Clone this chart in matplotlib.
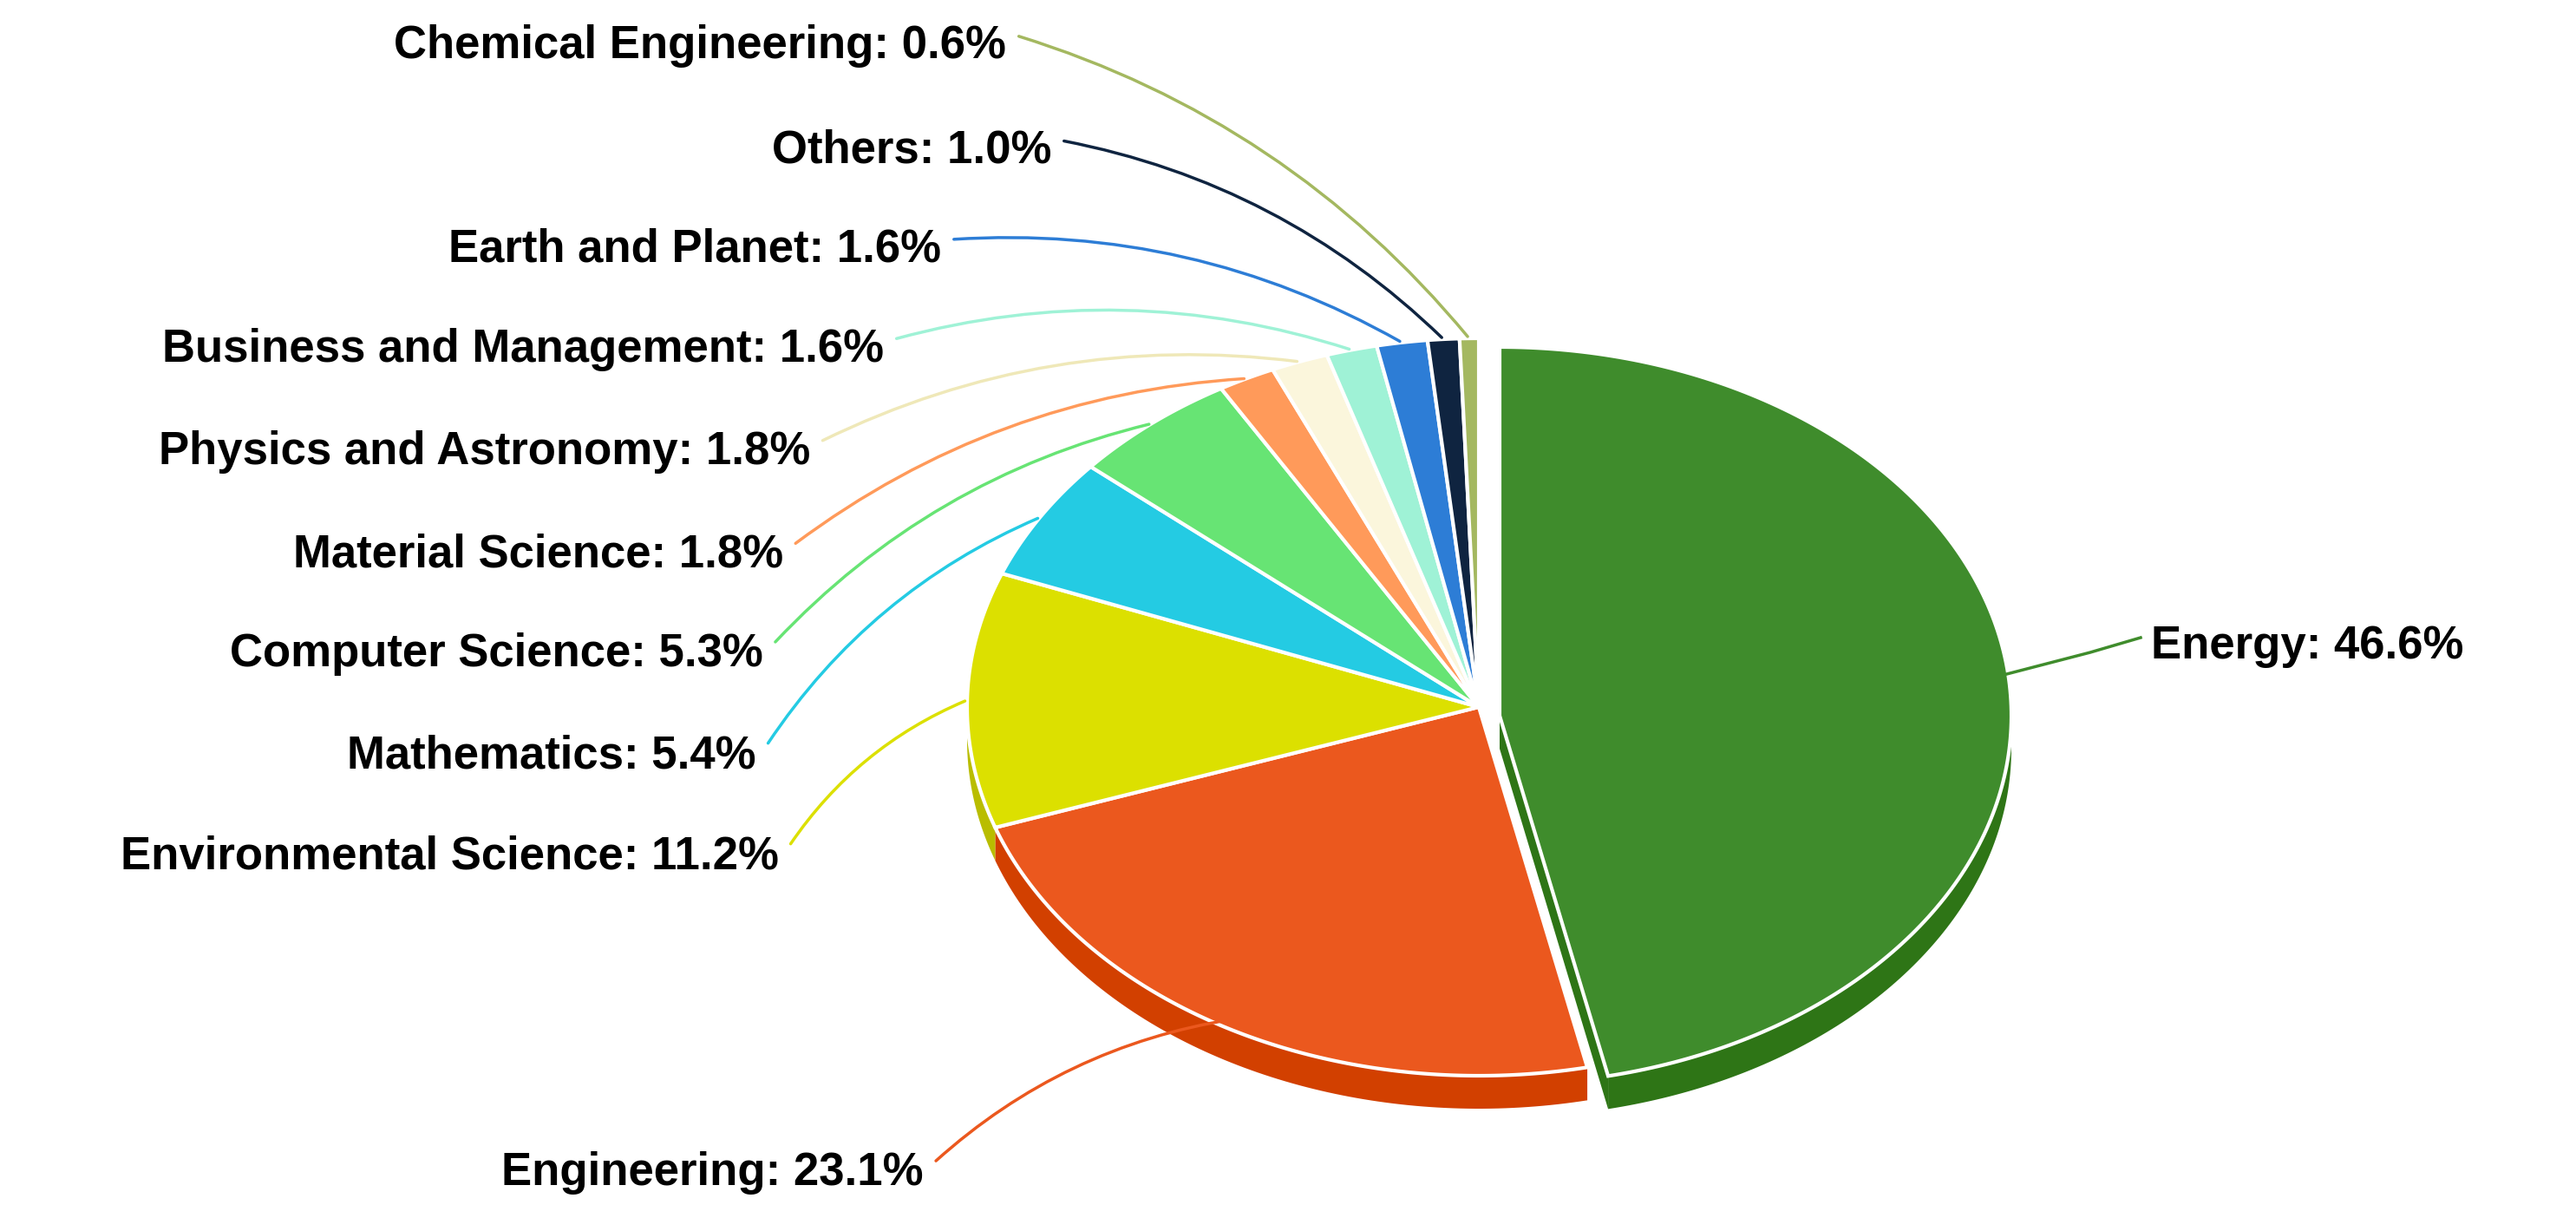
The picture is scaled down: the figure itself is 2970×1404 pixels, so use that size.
import numpy as np
import matplotlib
matplotlib.use("Agg")
from matplotlib import pyplot as plt
from matplotlib.patches import Polygon

# data, clockwise from 12 o'clock
labels = ["Energy", "Engineering", "Environmental Science", "Mathematics",
          "Computer Science", "Material Science", "Physics and Astronomy",
          "Business and Management", "Earth and Planet", "Others",
          "Chemical Engineering"]
shares = [46.6, 23.1, 11.2, 5.4, 5.3, 1.8, 1.8, 1.6, 1.6, 1.0, 0.6]
colors = ["#3f8c2c", "#eb581e", "#dce000", "#24cbe3", "#67e474", "#ff9a5a",
          "#fbf6dc", "#9ff2d6", "#2d7dd6", "#0f2440", "#a4b860"]
side_colors = ["#2e7516", "#d24000", "#b9bd00", "#1aa9bd", "#4fc25b", "#e07a3a",
               "#dcd7bd", "#7fd2b6", "#1d5db0", "#08162a", "#84984a"]

# layout in pixel coordinates (y downward)
W, H = 2970, 1404
cx, cy = 1705, 815
rx, ry = 590, 425
depth = 38
explode = {0: (24, 10)}

# label positions: (x of right end, y), elbow point
label_pos = [(2500, 745), (1065, 1352), (898, 987), (872, 871), (880, 754),
             (903, 640), (934, 521), (1019, 403), (1085, 288), (1212, 174),
             (1160, 53)]
label_elbow = [(2410, 752), (1370, 1290), (1010, 808), (1110, 560), (1240, 435),
               (1320, 370), (1410, 355), (1500, 330), (1580, 280), (1610, 215),
               (1650, 140)]

fig = plt.figure(figsize=(W / 100, H / 100), dpi=100)
ax = fig.add_axes([0, 0, 1, 1])
ax.set_xlim(0, W)
ax.set_ylim(H, 0)
ax.axis("off")


def pt(t, ox=0, oy=0, r=1.0):
    return cx + ox + r * rx * np.sin(t), cy + oy - r * ry * np.cos(t)


fr = np.array(shares) / sum(shares)
edges = np.concatenate([[0], np.cumsum(fr)]) * 2 * np.pi

# side faces
for i in range(len(shares)):
    ox, oy = explode.get(i, (0, 0))
    t1, t2 = edges[i], edges[i + 1]
    a, b = max(t1, np.pi / 2), min(t2, 3 * np.pi / 2)
    if a < b:
        ts = np.linspace(a, b, 100)
        top = [pt(t, ox, oy) for t in ts]
        bot = [(x, y + depth) for x, y in top[::-1]]
        ax.add_patch(Polygon(top + bot, closed=True, fc=side_colors[i], ec="none", zorder=1))
    if i == 0:
        ex, ey = pt(t2, ox, oy)
        ax.add_patch(Polygon([(cx + ox, cy + oy), (ex, ey), (ex, ey + depth),
                              (cx + ox, cy + oy + depth)], closed=True,
                             fc=side_colors[i], ec="none", zorder=1))

# top faces
for i in range(len(shares)):
    ox, oy = explode.get(i, (0, 0))
    ts = np.linspace(edges[i], edges[i + 1], 200)
    poly = [(cx + ox, cy + oy)] + [pt(t, ox, oy) for t in ts]
    ax.add_patch(Polygon(poly, closed=True, fc=colors[i], ec="white", lw=3, zorder=2))

# labels and leader lines
for i in range(len(shares)):
    ox, oy = explode.get(i, (0, 0))
    tm = (edges[i] + edges[i + 1]) / 2
    r = 0.97 if i < 2 else 1.0
    ax_, ay_ = pt(tm, ox, oy, r)
    lx, ly = label_pos[i]
    elx, ely = label_elbow[i]
    if i == 0:
        ax.text(lx - 20, ly, f"{labels[i]}: {shares[i]}%", ha="left", va="center",
                fontsize=38, fontweight="bold", family="Liberation Sans", zorder=4)
        ax.plot([ax_, elx, lx - 32], [ay_, ely, ly - 10], color=colors[i], lw=2.5, zorder=3)
    else:
        ax.text(lx, ly, f"{labels[i]}: {shares[i]}%", ha="right", va="center",
                fontsize=38, fontweight="bold", family="Liberation Sans", zorder=4)
        ax.annotate("", xy=(ax_, ay_), xytext=(lx + 12, ly - 12),
                    arrowprops=dict(arrowstyle="-", color=colors[i] if i != 6 else "#efe8b8",
                                    lw=2.5, connectionstyle="arc3,rad=-0.15"),
                    zorder=3)

fig.savefig("out.png", dpi=100, facecolor="white")
